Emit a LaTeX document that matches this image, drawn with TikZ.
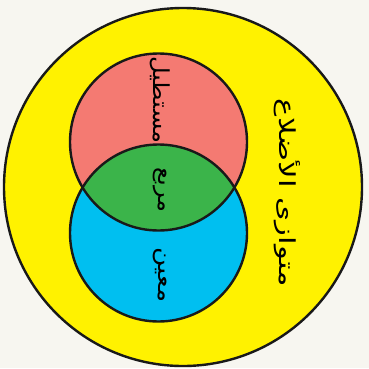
\documentclass[tikz,border=0pt]{standalone}
\usepackage{fontspec}
\newfontfamily\arabicfont[Script=Arabic]{DejaVu Sans}
\TeXXeTstate=1
\definecolor{bg}{HTML}{F7F6F0}
\definecolor{yel}{HTML}{FFF200}
\definecolor{rd}{HTML}{F47A72}
\definecolor{bl}{HTML}{00BFF0}
\definecolor{gr}{HTML}{3BB44A}
\tikzset{
  ring/.style={draw=black!90, line width=2.4pt},
  lbl/.style={font=\arabicfont\fontsize{22}{24}\selectfont, rotate=-90, inner sep=0pt}
}
\begin{document}
\begin{tikzpicture}[x=1pt,y=1pt]
\fill[bg] (0,0) rectangle (369,368);
\useasboundingbox (0,0) rectangle (369,368);
\filldraw[ring, fill=yel] (183,181) circle (179);
\fill[rd] (158.5,226) circle (88.5);
\fill[bl] (158.5,135) circle (88.5);
\begin{scope}
  \clip (158.5,226) circle (88.5);
  \fill[gr] (158.5,135) circle (88.5);
\end{scope}
\draw[ring] (158.5,226) circle (88.5);
\draw[ring] (158.5,135) circle (88.5);
\node[lbl] (rect) at (160,268) {\scalebox{1.1}[1]{\beginR مستطيل\endR}};
\node[lbl] (sq) at (160,178) {\scalebox{1.1}[1]{\beginR مربع\endR}};
\node[lbl] (rh) at (160,93) {\scalebox{1.2}[1]{\beginR معين\endR}};
\node[lbl] (par) at (287,175) {\scalebox{1.4}[1]{\beginR متوازى الأضلاع\endR}};
\end{tikzpicture}
\end{document}
